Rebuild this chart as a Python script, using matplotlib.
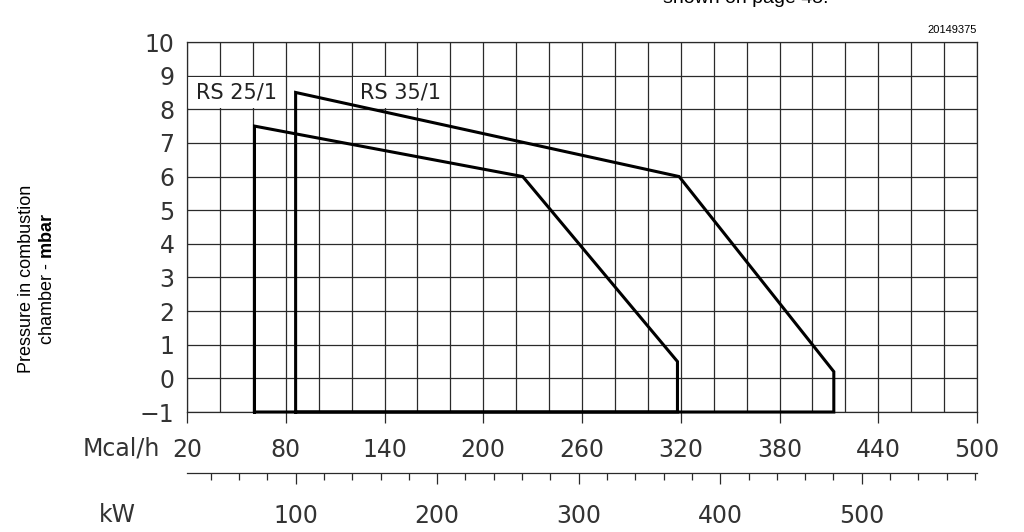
import matplotlib
matplotlib.use("Agg")
import matplotlib.pyplot as plt
from matplotlib.patches import Rectangle
from matplotlib.ticker import MultipleLocator, FixedLocator

# operating fields, Mcal/h vs mbar
rs25_mcal = [61, 61, 224, 318, 318, 61]
rs25_mbar = [-1, 7.5, 6.0, 0.5, -1, -1]
rs35_mcal = [86, 86, 319, 413, 413, 86]
rs35_mbar = [-1, 8.5, 6.0, 0.2, -1, -1]

mcal_ticks = [20, 80, 140, 200, 260, 320, 380, 440, 500]
kw_ticks = [100, 200, 300, 400, 500]
y_ticks = list(range(-1, 11))
KW_TO_MCAL = 0.86

plt.rcParams['mathtext.fontset'] = 'custom'
plt.rcParams['mathtext.rm'] = 'Liberation Sans'
plt.rcParams['mathtext.bf'] = 'Liberation Sans:bold'

cad = dict(family='DejaVu Sans', fontsize=17, color='#333333')

fig = plt.figure(figsize=(10.24, 5.32), dpi=100)
W, H = 1024, 532
ax = fig.add_axes([187 / W, (H - 412) / H, 790 / W, 370 / H])

ax.set_xlim(20, 500)
ax.set_ylim(-1, 10)
ax.xaxis.set_major_locator(FixedLocator(mcal_ticks))
ax.xaxis.set_minor_locator(MultipleLocator(20))
ax.yaxis.set_major_locator(FixedLocator(y_ticks))
ax.set_axisbelow(True)
ax.grid(which='both', color='#2a2a2a', linewidth=0.9)
ax.tick_params(axis='x', which='major', direction='out', length=8, width=0.9,
               pad=11, colors='#2a2a2a')
ax.tick_params(axis='x', which='minor', length=0)
ax.tick_params(axis='y', length=0, pad=9)
for sp in ax.spines.values():
    sp.set_linewidth(0.9)
    sp.set_color('#2a2a2a')
ax.set_xticklabels([str(t) for t in mcal_ticks], **cad)
ax.set_yticklabels(['\u22121'] + [str(t) for t in y_ticks[1:]], **cad)

# label boxes hide the grid behind the names
ax.add_patch(Rectangle((20.6, 8.03), 58.8, 0.94, facecolor='white',
                       edgecolor='none', zorder=1))
ax.add_patch(Rectangle((120.6, 8.03), 58.8, 0.94, facecolor='white',
                       edgecolor='none', zorder=1))
ax.text(50, 8.5, 'RS 25/1', ha='center', va='center', zorder=3,
        family='DejaVu Sans', fontsize=15, color='#222222')
ax.text(150, 8.5, 'RS 35/1', ha='center', va='center', zorder=3,
        family='DejaVu Sans', fontsize=15, color='#222222')

ax.plot(rs25_mcal, rs25_mbar, color='black', linewidth=2.2, zorder=4,
        clip_on=False, solid_joinstyle='miter')
ax.plot(rs35_mcal, rs35_mbar, color='black', linewidth=2.2, zorder=4,
        clip_on=False, solid_joinstyle='miter')

# kW scale underneath
sec = ax.secondary_xaxis(-(473 - 412) / 370,
                         functions=(lambda m: m / KW_TO_MCAL,
                                    lambda k: k * KW_TO_MCAL))
sec.xaxis.set_major_locator(FixedLocator(kw_ticks))
sec.xaxis.set_minor_locator(MultipleLocator(20))
sec.tick_params(which='major', direction='out', length=8, width=0.9,
                pad=14, colors='#2a2a2a')
sec.tick_params(which='minor', direction='out', length=5, width=0.9,
                colors='#2a2a2a')
sec.spines['bottom'].set_linewidth(0.9)
sec.spines['bottom'].set_color('#2a2a2a')
sec.set_xticklabels([str(t) for t in kw_ticks], **cad)

fig.text(160 / W, 1 - 448 / H, 'Mcal/h', ha='right', va='center', **cad)
fig.text(117 / W, 1 - 515 / H, 'kW', ha='center', va='center', **cad)

fig.text(27 / W, 1 - 279 / H, 'Pressure in combustion', rotation=90,
         ha='center', va='center', family='Liberation Sans', fontsize=13)
fig.text(47 / W, 1 - 279 / H, r'chamber - $\mathbf{mbar}$', rotation=90,
         ha='center', va='center', family='Liberation Sans', fontsize=13)

fig.text(977 / W, 1 - 30 / H, '20149375', ha='right', va='center',
         family='Liberation Sans', fontsize=8)
fig.text(746 / W, 1 - 3 / H, 'shown on page 45.', ha='center', va='baseline',
         family='Liberation Sans', fontsize=14)

fig.savefig('out.png', dpi=100)
